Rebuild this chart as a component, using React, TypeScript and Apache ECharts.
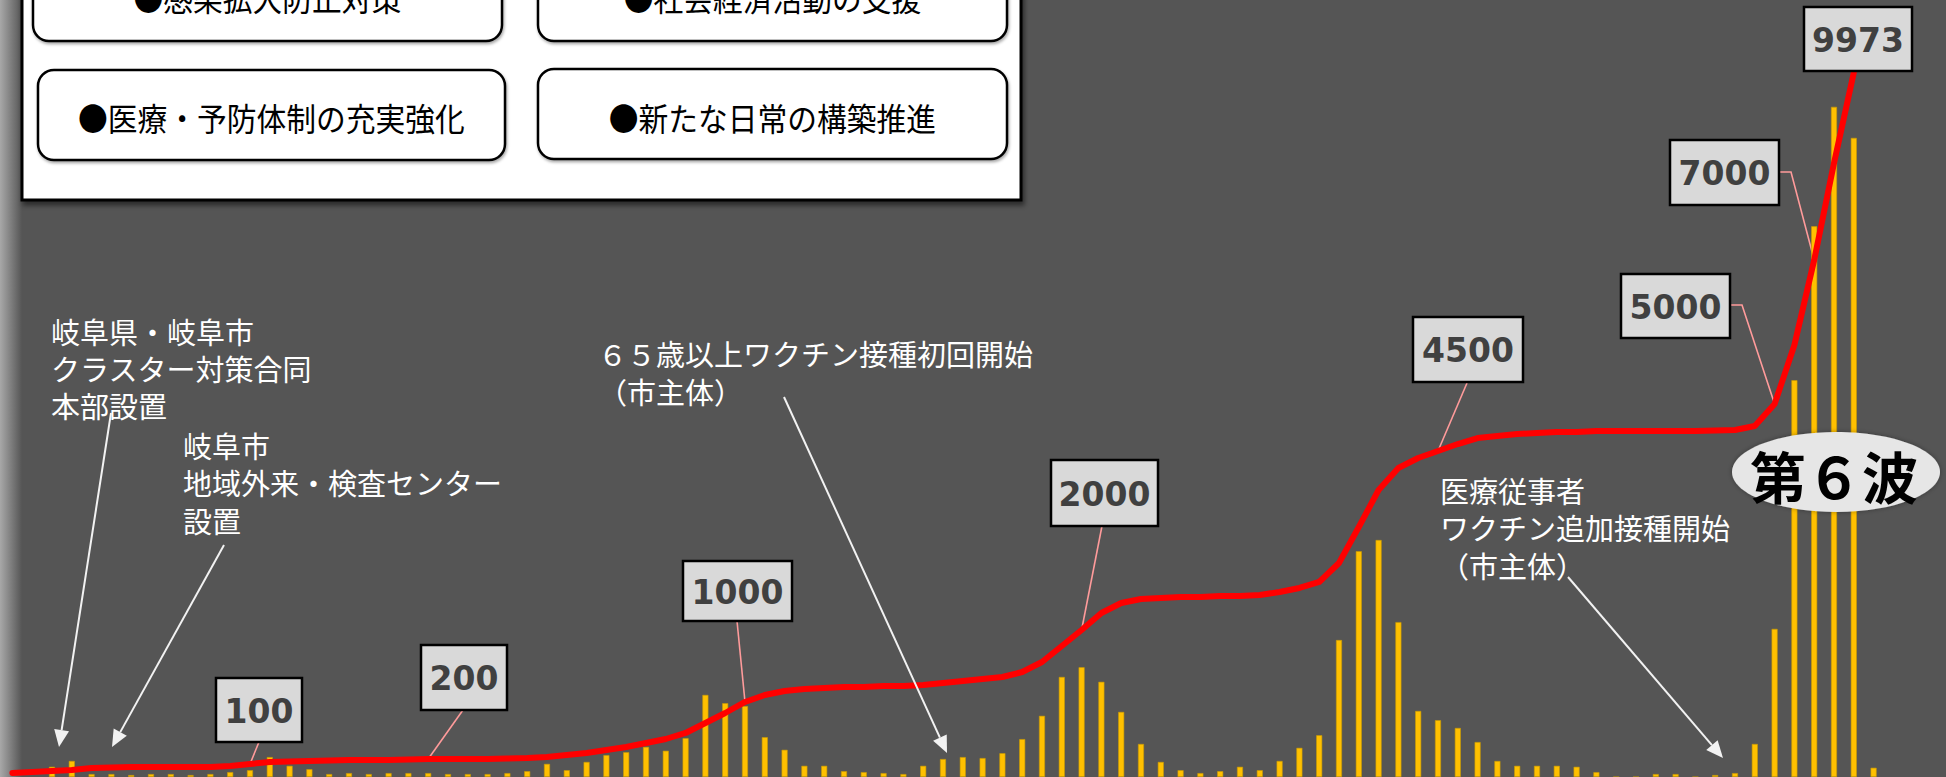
import React, { useEffect, useRef } from "react";
import * as echarts from "echarts";

// ---------- data ----------
const weekLabels: string[] = Array.from({ length: 95 }, (_, i) => `W${i + 1}`);

// weekly new cases (bars)
const weeklyCases: (number | null)[] = [
  null, null,
  21, 33, 6, 6, 4, 6, 6, 4, 6, 10, 14, 41, 23, 16,
  6, 8, 6, 8, 8, 8, 6, 6, 6, 8, 12,
  27, 14, 31, 45, 51, 62, 54, 80, 169, 152, 146, 82, 56, 23, 23, 12, 10, 8, 6,
  23, 37, 41, 39, 49, 78, 126, 206, 226, 196, 134, 68, 31, 14, 8, 12, 21, 14,
  33, 60, 86, 282, 465, 488, 319, 136, 117, 101, 72, 33, 23, 23, 23, 21, 10,
  0, 0, 6, 6, 0, 4, 8, 68, 305, 817, 1134, 1380, 1316, 19,
];

// cumulative cases (red line)
const cumulativeCases: (number | null)[] = [
  57, 71, 85, 99, 127, 134, 142, 142, 142, 142, 142, 156, 184, 212, 219, 227,
  234, 241, 241, 241, 248, 255, 255, 255, 255, 262, 269, 283, 311, 340, 382,
  425, 481, 538, 623, 764, 906, 1062, 1161, 1218, 1246, 1260, 1274, 1274, 1288,
  1288, 1302, 1331, 1359, 1387, 1416, 1486, 1628, 1855, 2081, 2322, 2463, 2520,
  2534, 2548, 2548, 2562, 2562, 2577, 2619, 2676, 2761, 3030, 3539, 4063, 4375,
  4516, 4615, 4714, 4799, 4828, 4856, 4870, 4884, 4884, 4898, 4898, 4898, 4898,
  4898, 4898, 4905, 4912, 4969, 5280, 6116, 7319, 8692, 9973, null,
];

const milestoneLabels = ["100", "200", "1000", "2000", "4500", "5000", "7000", "9973"];
const milestoneIndex = [12, 21, 37, 54, 72, 89, 91, 93];

const policyItems = [
  "●感染拡大防止対策",
  "●社会経済活動の支援",
  "●医療・予防体制の充実強化",
  "●新たな日常の構築推進",
];

const eventTexts = [
  "岐阜県・岐阜市\nクラスター対策合同\n本部設置",
  "岐阜市\n地域外来・検査センター\n設置",
  "６５歳以上ワクチン接種初回開始\n（市主体）",
  "医療従事者\nワクチン追加接種開始\n（市主体）",
];

const waveLabel = "第６波";

// ---------- layout (pixels) ----------
const BG = "#555555";
const JP = "'Noto Sans CJK JP', 'Noto Sans', sans-serif";
const NUM = "'DejaVu Sans', Verdana, sans-serif";

// [x0, x1, y0, y1]
const policyBoxes = [
  [33, 502, -48, 41],
  [538, 1007, -48, 41],
  [38, 505, 70, 160],
  [538, 1007, 69, 159],
];
const policyTextY = [-3, -3, 117, 117];

const milestoneBoxes = [
  [216, 302, 678, 742],
  [421, 507, 645, 710],
  [683, 792, 561, 621],
  [1051, 1158, 460, 526],
  [1413, 1523, 317, 382],
  [1621, 1730, 274, 338],
  [1670, 1779, 140, 205],
  [1804, 1912, 7, 71],
];
// leader start points (and optional elbow)
const leaderStarts: (number[][] | null)[] = [
  [[259, 742]],
  [[463, 710]],
  [[737, 621]],
  [[1102, 526]],
  [[1467, 383]],
  [[1731, 305], [1742, 305]],
  [[1780, 172], [1791, 172]],
  null,
];

const eventPos = [
  [51, 312, 37.3],
  [183, 426, 37.5],
  [598, 334, 38],
  [1440, 471, 37.5],
];
const arrows = [
  [111, 413, 59, 747],
  [224, 545, 112, 747],
  [784, 397, 947, 753],
  [1568, 577, 1723, 758],
];

function arrowEls(x1: number, y1: number, x2: number, y2: number) {
  const dx = x2 - x1;
  const dy = y2 - y1;
  const L = Math.hypot(dx, dy);
  const ux = dx / L;
  const uy = dy / L;
  const hl = 17;
  const hw = 7.5;
  const bx = x2 - ux * hl;
  const by = y2 - uy * hl;
  return [
    {
      type: "line",
      z: 50,
      shape: { x1, y1, x2: bx, y2: by },
      style: { stroke: "#f2f2f2", lineWidth: 2 },
    },
    {
      type: "polygon",
      z: 50,
      shape: {
        points: [
          [x2, y2],
          [bx - uy * hw, by + ux * hw],
          [bx + uy * hw, by - ux * hw],
        ],
      },
      style: { fill: "#f2f2f2" },
    },
  ];
}

export default function App() {
  const ref = useRef<HTMLDivElement>(null);

  useEffect(() => {
    if (!ref.current) return;
    const chart = echarts.init(ref.current, undefined, { renderer: "svg" });
    chart.setOption({
      animation: false,
      backgroundColor: BG,
      grid: { left: 2.5, right: 62.5, top: 0, bottom: 0, containLabel: false },
      xAxis: {
        type: "category",
        data: weekLabels,
        show: false,
        boundaryGap: true,
      },
      yAxis: [
        { type: "value", min: 0, max: 1600, show: false },
        { type: "value", min: 0, max: 11000, show: false },
      ],
      series: [
        {
          name: "週別新規感染者数",
          type: "bar",
          data: weeklyCases,
          yAxisIndex: 0,
          barWidth: 6,
          itemStyle: { color: "#FFC000", borderColor: "#C99A00", borderWidth: 0.6 },
          z: 2,
        },
        {
          name: "累計感染者数",
          type: "line",
          data: cumulativeCases,
          yAxisIndex: 1,
          showSymbol: false,
          symbol: "none",
          smooth: false,
          lineStyle: { color: "#FF0000", width: 6, cap: "round", join: "round" },
          z: 3,
        },
      ],
    });

    const g: any[] = [];

    // left shading
    g.push({
      type: "rect",
      z: 0,
      shape: { x: 0, y: 0, width: 22, height: 777 },
      style: {
        fill: new echarts.graphic.LinearGradient(0, 0, 1, 0, [
          { offset: 0, color: "#a8a8a8" },
          { offset: 1, color: BG },
        ]),
      },
    });

    // main white box
    g.push({
      type: "rect",
      z: 40,
      shape: { x: 22, y: -10, width: 999, height: 210 },
      style: {
        fill: "#ffffff",
        stroke: "#000000",
        lineWidth: 3,
        shadowBlur: 5,
        shadowOffsetX: 2,
        shadowOffsetY: 4,
        shadowColor: "rgba(0,0,0,0.5)",
      },
    });
    policyBoxes.forEach((b, i) => {
      g.push({
        type: "rect",
        z: 41,
        shape: { x: b[0], y: b[2], width: b[1] - b[0], height: b[3] - b[2], r: 16 },
        style: {
          fill: "#ffffff",
          stroke: "#000000",
          lineWidth: 2.5,
          shadowBlur: 3,
          shadowOffsetX: 1,
          shadowOffsetY: 2,
          shadowColor: "rgba(0,0,0,0.35)",
        },
      });
      g.push({
        type: "text",
        z: 42,
        x: (b[0] + b[1]) / 2,
        y: policyTextY[i],
        scaleX: 0.93,
        style: {
          text: policyItems[i],
          x: 0,
          y: 0,
          fill: "#000000",
          fontSize: 32,
          fontFamily: JP,
          align: "center",
          verticalAlign: "middle",
          textAlign: "center",
          textVerticalAlign: "middle",
        },
      });
    });

    // event annotations
    eventTexts.forEach((t, i) => {
      const p = eventPos[i];
      g.push({
        type: "text",
        z: 45,
        x: p[0],
        y: p[1],
        style: {
          text: t,
          x: 0,
          y: 0,
          fill: "#ffffff",
          fontSize: 29,
          lineHeight: p[2],
          fontFamily: JP,
          align: "left",
          verticalAlign: "top",
          textAlign: "left",
          textVerticalAlign: "top",
        },
      });
    });
    arrows.forEach((a) => g.push(...arrowEls(a[0], a[1], a[2], a[3])));

    // milestone boxes + leaders
    milestoneLabels.forEach((lab, i) => {
      const idx = milestoneIndex[i];
      const pt = chart.convertToPixel({ xAxisIndex: 0, yAxisIndex: 1 } as any, [
        idx,
        cumulativeCases[idx] as number,
      ]) as number[];
      const starts = leaderStarts[i];
      if (starts) {
        g.push({
          type: "polyline",
          z: 1,
          shape: { points: [...starts, pt] },
          style: { stroke: "#FF9B9B", lineWidth: 1.6, fill: null },
        });
      }
      const b = milestoneBoxes[i];
      g.push({
        type: "rect",
        z: 46,
        shape: { x: b[0], y: b[2], width: b[1] - b[0], height: b[3] - b[2] },
        style: { fill: "#D9D9D9", stroke: "#000000", lineWidth: 2.5 },
      });
      g.push({
        type: "text",
        z: 47,
        x: (b[0] + b[1]) / 2,
        y: (b[2] + b[3]) / 2 + 1,
        style: {
          text: lab,
          x: 0,
          y: 0,
          fill: "#404040",
          fontSize: 33,
          fontWeight: "bold",
          fontFamily: NUM,
          align: "center",
          verticalAlign: "middle",
          textAlign: "center",
          textVerticalAlign: "middle",
        },
      });
    });

    // wave ellipse
    g.push({
      type: "ellipse",
      z: 48,
      shape: { cx: 1836, cy: 472, rx: 104, ry: 40 },
      style: {
        fill: "#E6E6E6",
        shadowBlur: 5,
        shadowColor: "rgba(0,0,0,0.35)",
      },
    });
    g.push({
      type: "text",
      z: 49,
      x: 1834,
      y: 474,
      style: {
        text: waveLabel,
        x: 0,
        y: 0,
        fill: "#000000",
        fontSize: 56,
        fontWeight: "bold",
        fontFamily: JP,
        align: "center",
        verticalAlign: "middle",
        textAlign: "center",
        textVerticalAlign: "middle",
      },
    });

    chart.setOption({ graphic: { elements: g } });

    return () => chart.dispose();
  }, []);

  return (
    <div
      ref={ref}
      style={{
        position: "fixed",
        left: 0,
        top: 0,
        width: 1946,
        height: 777,
        background: BG,
      }}
    />
  );
}
